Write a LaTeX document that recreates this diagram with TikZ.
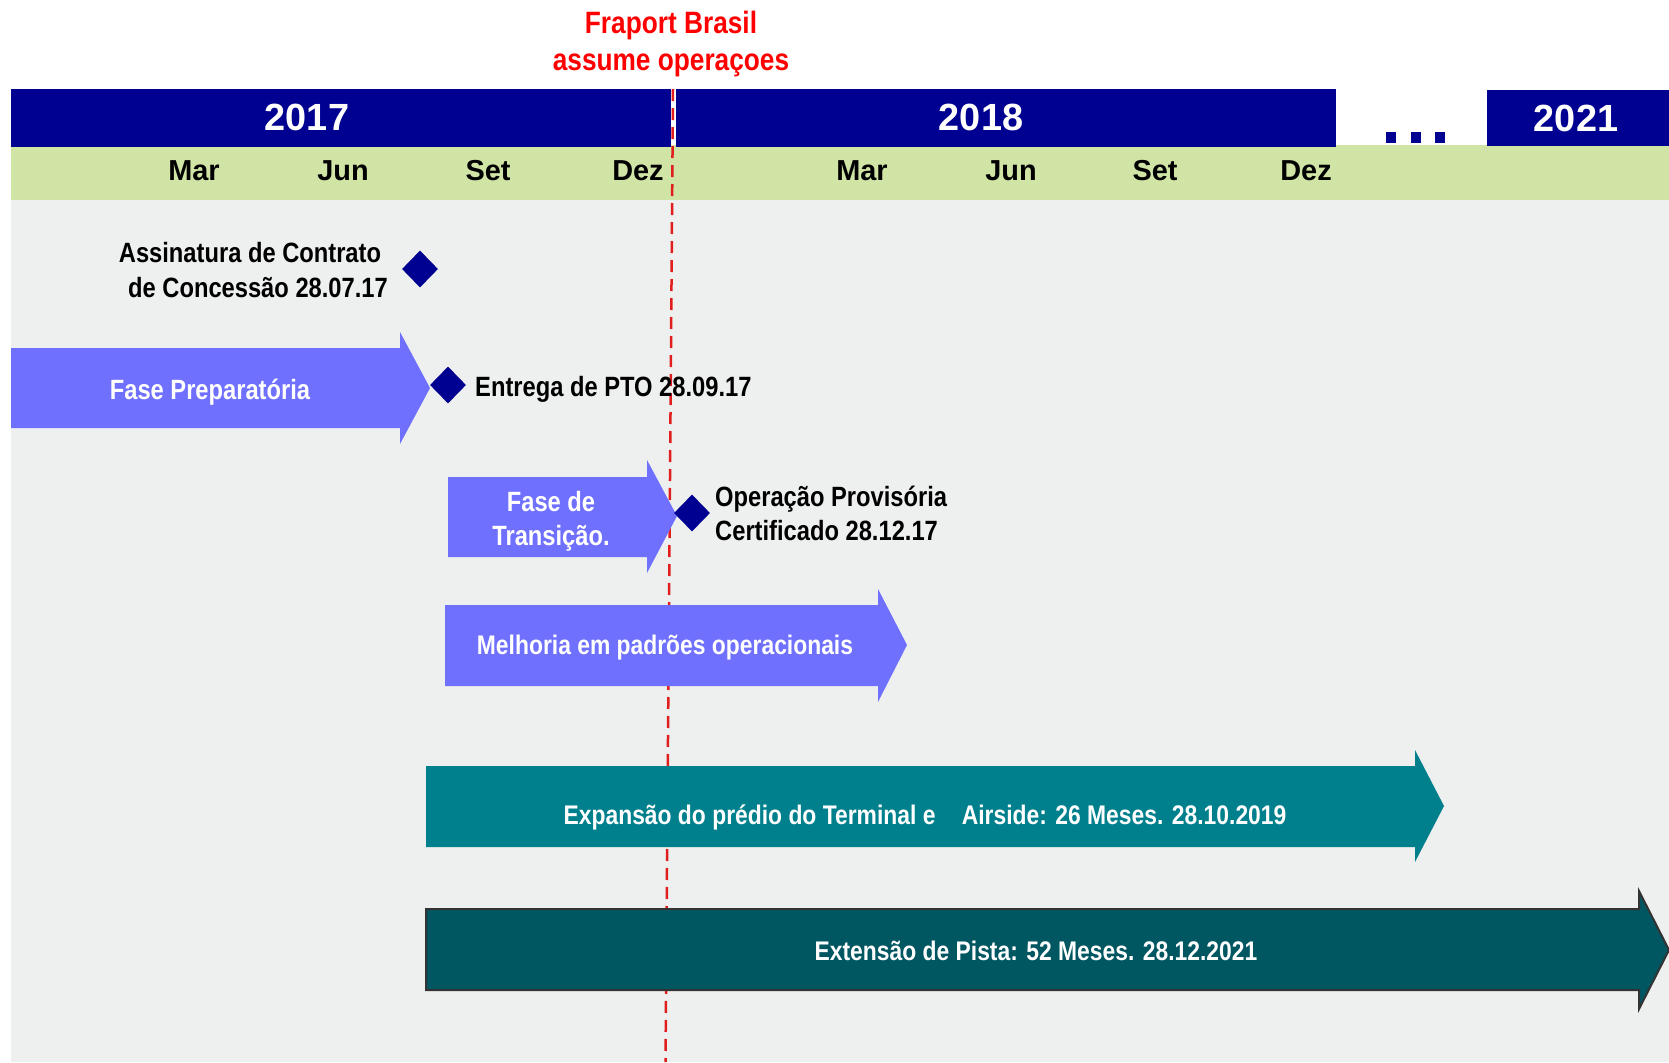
\documentclass[tikz,border=0pt]{standalone}
\usepackage{fontspec}
\setmainfont{Liberation Sans}
\newfontfamily\narrowfont[FakeStretch=0.85]{Liberation Sans}
\usepackage{tikz}
\usetikzlibrary{shapes.geometric}
\definecolor{yearblue}{RGB}{0,0,145}
\definecolor{monthgreen}{RGB}{208,228,166}
\definecolor{panelgrey}{RGB}{238,240,239}
\definecolor{phaseblue}{RGB}{112,112,255}
\definecolor{worksteal}{RGB}{0,128,140}
\definecolor{runwayteal}{RGB}{0,86,97}
\definecolor{handover}{RGB}{225,30,30}

\begin{document}
\begin{tikzpicture}[x=1bp,y=-1bp,
  year/.style={text=white,inner sep=0pt,font=\fontsize{38}{40}\selectfont\bfseries},
  month/.style={anchor=base,inner sep=0pt,font=\fontsize{29}{32}\selectfont\bfseries},
  label/.style={anchor=base,inner sep=0pt,font=\narrowfont\fontsize{28}{32}\selectfont\bfseries},
  milestone/.style={diamond,fill=yearblue,inner sep=0pt,minimum width=36bp,minimum height=37bp}]
\useasboundingbox (0,0) rectangle (1669,1062);
\fill[white] (0,0) rectangle (1669,1062);
% Panel and month band
\fill[panelgrey] (11,200) rectangle (1669,1062);
\fill[monthgreen] (11,145) rectangle (1669,200);
% Year bars
\fill[yearblue] (11,89) rectangle (671,147);
\fill[yearblue] (676,89) rectangle (1336,147);
\fill[yearblue] (1487,90) rectangle (1669,146);
\node[year] (y2017) at (307,117) {2017};
\node[year] (y2018) at (981,117) {2018};
\node[year] (y2021) at (1576,118) {2021};
\foreach \x in {1386,1411,1435} \fill[yearblue] (\x,132) rectangle +(10,11);
% Months
\foreach \m/\x [count=\i] in {Mar/194,Jun/343,Set/488,Dez/638,Mar/862,Jun/1011,Set/1155,Dez/1306}
  \node[month] (mon\i) at (\x,180) {\m};
% Start of operation
\draw[handover, line width=2.5bp, dash pattern=on 12bp off 7bp] (673,89) -- (665.5,1062);
\node[label,text=red,font=\narrowfont\fontsize{31}{34}\selectfont\bfseries] (fraport) at (671,33) {Fraport Brasil};
\node[label,text=red,font=\narrowfont\fontsize{31}{34}\selectfont\bfseries] (assume) at (671,70) {assume operaçoes};
% Phases
\fill[phaseblue] (11,348) -- (400,348) -- (400,332) -- (430,388) -- (400,444) -- (400,428) -- (11,428) -- cycle;
\node[label,text=white] (prep) at (210,399) {Fase Preparatória};
\fill[phaseblue] (448,477) -- (647,477) -- (647,460) -- (677,516) -- (647,573) -- (647,557) -- (448,557) -- cycle;
\node[label,text=white] (trans1) at (551,511) {Fase de};
\node[label,text=white] (trans2) at (551,545) {Transição.};
\fill[phaseblue] (445,605) -- (878,605) -- (878,589) -- (907,645) -- (878,702) -- (878,686) -- (445,686) -- cycle;
\node[label,text=white,font=\narrowfont\fontsize{27}{32}\selectfont\bfseries] (padroes) at (665,654) {Melhoria em padrões operacionais};
% Works
\fill[worksteal] (426,766) -- (1415,766) -- (1415,750) -- (1444,806) -- (1415,862) -- (1415,847) -- (426,847) -- cycle;
\node[label,text=white,font=\narrowfont\fontsize{27}{32}\selectfont\bfseries] (terminal) at (925,824) {Expansão do prédio do Terminal e\hspace{20bp} Airside: 26 Meses. 28.10.2019};
\filldraw[fill=runwayteal,draw=black!80,line width=2bp] (426,909) -- (1639,909) -- (1639,891) -- (1669,950) -- (1639,1009) -- (1639,990) -- (426,990) -- cycle;
\node[label,text=white,font=\narrowfont\fontsize{27}{32}\selectfont\bfseries] (pista) at (1036,960) {Extensão de Pista: 52 Meses. 28.12.2021};
% Milestones
\node[milestone] (m1) at (420,269) {};
\node[label] (contr1) at (250,262) {Assinatura de Contrato};
\node[label] (contr2) at (258,297) {de Concessão 28.07.17};
\node[milestone] (m2) at (448,385) {};
\node[label,anchor=base west] (pto) at (475,396) {Entrega de PTO 28.09.17};
\node[milestone] (m3) at (692,513) {};
\node[label,anchor=base west] (cert1) at (715,506) {Operação Provisória};
\node[label,anchor=base west] (cert2) at (715,540) {Certificado 28.12.17};
\end{tikzpicture}
\end{document}
